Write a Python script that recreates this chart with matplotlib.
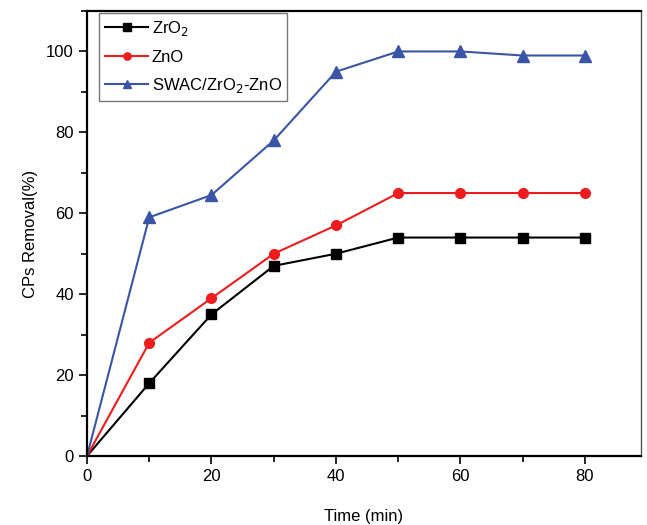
import matplotlib.pyplot as plt
from matplotlib.ticker import MultipleLocator

plt.rcParams['font.family'] = ['Liberation Sans', 'DejaVu Sans']

time = [0, 10, 20, 30, 40, 50, 60, 70, 80]
zro2 = [0, 18, 35, 47, 50, 54, 54, 54, 54]
zno = [0, 28, 39, 50, 57, 65, 65, 65, 65]
swac = [0, 59, 64.5, 78, 95, 100, 100, 99, 99]

fig = plt.figure(figsize=(6.47, 5.25), dpi=100)
ax = fig.add_axes([87 / 647, 1 - 456 / 525, (641 - 87) / 647, (456 - 11) / 525])

# the first point (t = 0) has no visible marker in the original
every = list(range(1, len(time)))
ax.plot(time, zro2, color='black', marker='s', markersize=7, lw=1.5, markevery=every, label='ZrO$_2$')
ax.plot(time, zno, color='#ee1c1c', marker='o', markersize=7, lw=1.5, markevery=every, label='ZnO')
ax.plot(time, swac, color='#3a55a8', marker='^', markersize=8, lw=1.5, markevery=every, label='SWAC/ZrO$_2$-ZnO')

ax.set_xlim(0, 89)
ax.set_ylim(0, 110)
ax.xaxis.set_major_locator(MultipleLocator(20))
ax.xaxis.set_minor_locator(MultipleLocator(10))
ax.yaxis.set_major_locator(MultipleLocator(20))
ax.yaxis.set_minor_locator(MultipleLocator(10))
ax.tick_params(which='both', direction='out', top=False, right=False, labelsize=12, width=1.2)
ax.tick_params(which='major', length=6)
ax.tick_params(which='minor', length=4)

for s in ['left', 'bottom', 'top']:
    ax.spines[s].set_linewidth(1.6)
ax.spines['right'].set_color('#555555')
ax.spines['right'].set_linewidth(1.0)

ax.set_xlabel('Time (min)', fontsize=12, labelpad=18)
ax.set_ylabel('CPs Removal(%)', fontsize=12, labelpad=6)

leg = ax.legend(loc='upper left', bbox_to_anchor=(12 / 554, 1 - 2 / 445), borderaxespad=0,
                fontsize=12, frameon=True, fancybox=False,
                edgecolor='#555555', handlelength=2.6, labelspacing=0.7,
                handletextpad=0.2, markerscale=0.75, borderpad=0.35)
leg.get_frame().set_linewidth(1.0)

fig.savefig('out.png', dpi=100)
